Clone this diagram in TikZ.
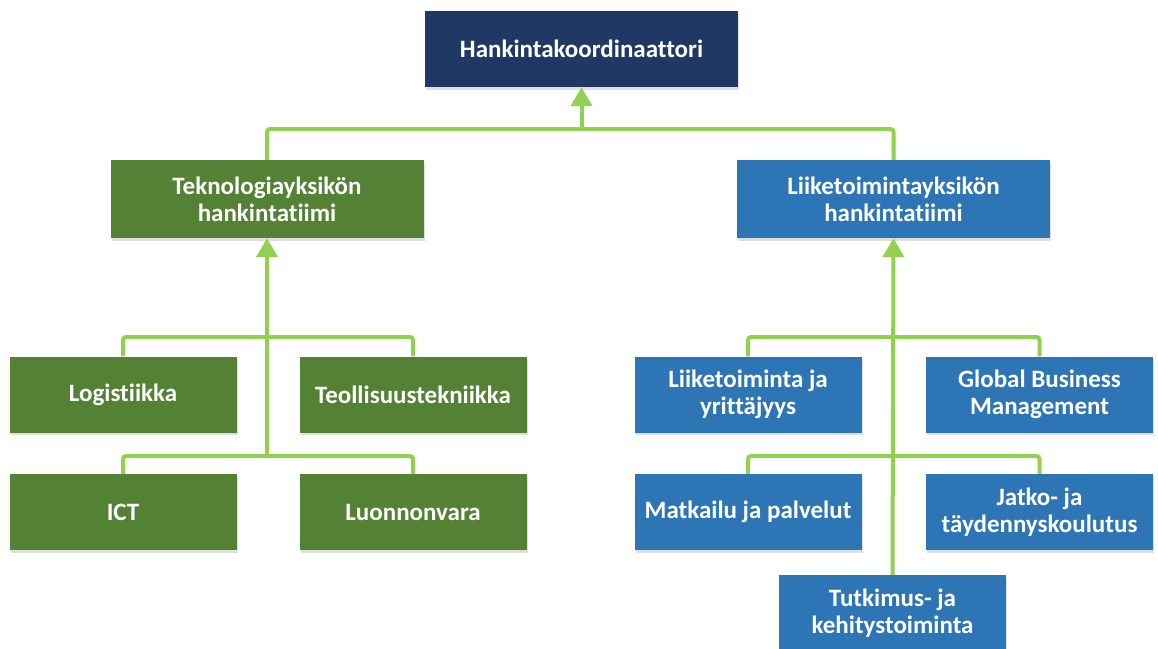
\documentclass[tikz,border=0pt]{standalone}
\usepackage{fontspec}
\setmainfont{Carlito}[Ligatures=NoCommon]
\usetikzlibrary{arrows.meta,shadows}

\definecolor{navy}{HTML}{203864}
\definecolor{techgreen}{HTML}{548235}
\definecolor{bizblue}{HTML}{2E75B6}
\definecolor{linkgreen}{HTML}{92D050}

\tikzset{
  unitbox/.style={
    rectangle, inner sep=0pt, align=center, text=white,
    font=\bfseries\fontsize{25}{27}\selectfont,
    drop shadow={shadow xshift=1pt, shadow yshift=-2.5pt, opacity=0.13, fill=black}
  },
  headbox/.style={unitbox, fill=navy, minimum width=313pt, minimum height=76pt},
  teambox/.style={unitbox, minimum width=313pt, minimum height=78pt},
  subbox/.style={unitbox, minimum width=227pt, minimum height=76pt},
  greenbox/.style={fill=techgreen},
  bluebox/.style={fill=bizblue},
  link/.style={draw=linkgreen, line width=4pt, rounded corners=3pt},
  uparrow/.style={link, -{Triangle[width=21pt,length=19pt]}}
}

\begin{document}
\begin{tikzpicture}[x=1pt,y=-1pt]
  \useasboundingbox (0,0) rectangle (1158,648);
  \clip (0,0) rectangle (1158,648);

  % boxes
  \node[headbox] (top) at (581.5,49) {Hankintakoordinaattori};

  \node[teambox,greenbox] (tech) at (267,199) {Teknologiayksikön\\hankintatiimi};
  \node[teambox,bluebox] (biz) at (893.5,199) {Liiketoimintayksikön\\hankintatiimi};

  \node[subbox,greenbox] (log) at (123,394.5) {Logistiikka};
  \node[subbox,greenbox] (teo) at (413,394.5) {Teollisuustekniikka};
  \node[subbox,greenbox] (ict) at (123,512) {ICT};
  \node[subbox,greenbox] (luo) at (413,512) {Luonnonvara};

  \node[subbox,bluebox] (lyr) at (748,394.5) {Liiketoiminta ja\\yrittäjyys};
  \node[subbox,bluebox] (gbm) at (1039.5,394.5) {Global Business\\Management};
  \node[subbox,bluebox] (mat) at (748,512) {Matkailu ja palvelut};
  \node[subbox,bluebox] (jat) at (1039.5,512) {Jatko- ja\\täydennyskoulutus};
  \node[subbox,bluebox] (tut) at (892.5,613) {Tutkimus- ja\\kehitystoiminta};

  % junction levels
  \coordinate (mainbar) at (581.5,129);
  \coordinate (techbar1) at (267,337);
  \coordinate (techbar2) at (267,456);
  \coordinate (bizbar1) at (893.5,337);
  \coordinate (bizbar2) at (893.5,456);

  % top level
  \draw[link] (tech.north) -- (tech.north |- mainbar) -- (biz.north |- mainbar) -- (biz.north);
  \draw[uparrow] (mainbar) -- (top.south);

  % technology unit
  \draw[link] (log.north) -- (log.north |- techbar1) -- (teo.north |- techbar1) -- (teo.north);
  \draw[link] (ict.north) -- (ict.north |- techbar2) -- (luo.north |- techbar2) -- (luo.north);
  \draw[uparrow] (techbar2) -- (tech.south);

  % business unit
  \draw[link] (lyr.north) -- (lyr.north |- bizbar1) -- (gbm.north |- bizbar1) -- (gbm.north);
  \draw[link] (mat.north) -- (mat.north |- bizbar2) -- (jat.north |- bizbar2) -- (jat.north);
  \draw[uparrow] (tut.north) -- (biz.south);
\end{tikzpicture}
\end{document}
